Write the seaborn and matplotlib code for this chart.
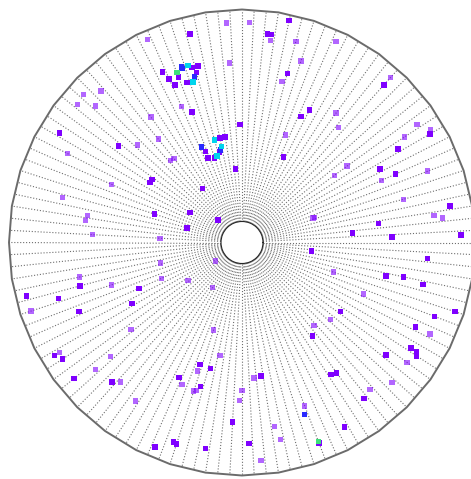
import numpy as np
import pandas as pd
import matplotlib
matplotlib.use("Agg")
import matplotlib.pyplot as plt
import seaborn as sns

# angle (deg) and radius of each point, grouped by colour level
vivid_theta = [104, 115, 114, 111, 91, 149, 142, 112, 112, 108, 104, 102, 99, 95, 145, 147, 126, 150, 162, 137,
               165, 78, 83, 82, 75, 48, 63, 65, 30, 31, 64, 28, 24, 10, 8, 5, 2, 2, 353, 355,
               195, 204, 347, 348, 347, 194, 197, 203, 209, 325, 339, 342, 307, 334, 211, 213, 328, 328, 327, 322,
               251, 256, 219, 227, 245, 254, 278, 304, 306, 308, 267, 299, 291, 251, 252, 247, 260, 272, 106, 105,
               111, 109, 113, 104]
vivid_r = [215, 188, 179, 140, 118, 213, 157, 98, 91, 89, 93, 107, 107, 74, 110, 110, 67, 60, 92, 33,
           57, 227, 210, 210, 175, 212, 149, 139, 217, 182, 95, 156, 168, 211, 138, 111, 150, 219, 70, 186,
           168, 113, 148, 165, 186, 222, 192, 177, 126, 120, 206, 224, 117, 193, 219, 214, 199, 206, 208, 183,
           129, 130, 216, 191, 149, 150, 135, 159, 161, 198, 180, 211, 215, 211, 212, 222, 209, 201, 182, 176,
           177, 169, 171, 182]
faint_theta = [94, 115, 94, 137, 133, 140, 137, 114, 126, 137, 129, 153, 131, 129, 156, 166, 170, 172, 177, 177,
               88, 82, 75, 65, 72, 76, 48, 54, 50, 68, 34, 31, 33, 36, 21, 36, 24, 15, 8, 7,
               19, 19, 194, 215, 342, 192, 198, 204, 215, 237, 337, 198, 218, 252, 311, 319, 334, 211, 221, 259,
               324, 221, 251, 229, 247, 252, 253, 275, 270, 269, 317, 311, 236, 291, 280, 281, 275]
faint_r = [220, 224, 180, 217, 207, 215, 200, 149, 155, 143, 133, 196, 109, 108, 143, 185, 157, 158, 150, 82,
           220, 204, 208, 222, 191, 166, 222, 160, 150, 116, 211, 220, 194, 130, 199, 114, 153, 167, 194, 202,
           77, 75, 84, 32, 96, 166, 137, 88, 66, 54, 132, 222, 141, 92, 110, 117, 209, 213, 174, 115,
           204, 194, 136, 185, 154, 156, 155, 136, 148, 158, 205, 195, 191, 175, 187, 201, 219]
blue_theta = [109, 109, 106, 113, 290, 103]
blue_r = [186, 184, 172, 104, 183, 95]
cyan_theta = [107, 107, 106, 102, 105]
cyan_r = [185, 168, 90, 98, 106]
green_theta = [111, 291]
green_r = [182, 213]

r_min, r_max = 21, 233

def frame(theta, r, level):
    return pd.DataFrame({"theta": np.radians(theta), "r": r, "level": level})

df_faint = frame(faint_theta, faint_r, "low")
df_main = pd.concat([frame(vivid_theta, vivid_r, "low"),
                     frame(blue_theta, blue_r, "mid"),
                     frame(cyan_theta, cyan_r, "high"),
                     frame(green_theta, green_r, "top")], ignore_index=True)
palette = {"low": "#7f00ff", "mid": "#2a2aff", "high": "#00d4ec", "top": "#3ee07a"}

sns.set_style("white")
fig = plt.figure(figsize=(4.71, 4.79), dpi=100)
ax = fig.add_axes([9 / 471, 3.5 / 479, 466 / 471, 466 / 479], projection="polar")

sns.scatterplot(data=df_faint, x="theta", y="r", hue="level", palette=palette, marker="s",
                s=15, linewidth=0, alpha=0.6, legend=False, ax=ax, zorder=3)
sns.scatterplot(data=df_main, x="theta", y="r", hue="level", palette=palette, marker="s",
                s=16, linewidth=0, alpha=1.0, legend=False, ax=ax, zorder=4)

ax.set_rorigin(0)
ax.set_ylim(r_min, r_max)
ax.set_yticks([])
ax.set_xticks(np.radians(np.arange(0, 360, 3)))
ax.set_xticklabels([])
ax.tick_params(length=0)
ax.xaxis.grid(True, linestyle=":", color="#6e6e6e", linewidth=0.8)
ax.set_xlabel("")
ax.set_ylabel("")
for sp in ax.spines.values():
    sp.set_visible(False)

# polygonal outer frame
edge = np.linspace(0, 2 * np.pi, 41)
ax.plot(edge, np.full_like(edge, r_max), color="#6b6b6b", linewidth=1.4, clip_on=False, zorder=5)

fig.savefig("out.png", dpi=100, facecolor="white")
